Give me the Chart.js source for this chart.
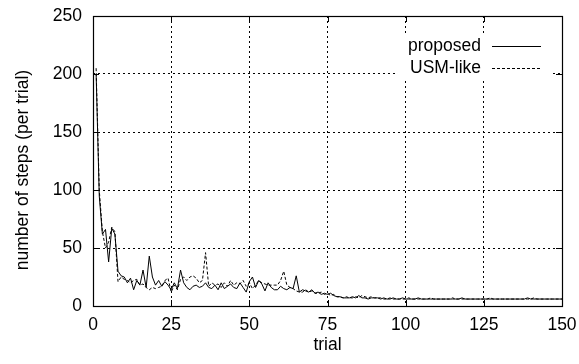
<!DOCTYPE html>
<html>
<head>
<meta charset="utf-8">
<script src="https://cdn.jsdelivr.net/npm/chart.js@4/dist/chart.umd.min.js"></script>
<style>
html,body{margin:0;padding:0;background:#fff;}
#wrap{width:579px;height:364px;position:relative;}
</style>
</head>
<body>
<div id="wrap"><canvas id="c" width="579" height="364"></canvas></div>
<script>
// ---- data ----
const trials = Array.from({length:150}, (_, i) => i + 1);
const proposed = [
 200,95,62,66,38,67,62,30,26,25,
 20,24,14,22,18,31,16,43,25,18,
 22,17,21,18,14,20,15,31,20,16,
 14,17,18,16,17,20,16,15,18,14,
 20,15,17,19,16,15,20,16,12,21,
 25,16,22,19,13,20,16,14,14,17,
 15,14,16,15,26,12,14,13,12,14,
 11,12,10,11,10,11,9,8,8,7,
 7,7,8,7,9,7,7,6,7,7,
 7,6,7,6,6,7,6,6,7,6,
 6,6,6,7,6,6,6,6,6,6,
 6,6,6,6,6,6,6,7,6,6,
 6,6,6,6,6,6,6,6,6,6,
 6,6,6,6,6,6,6,6,7,6,
 6,6,6,6,6,6,6,6,6,6
];
const usmLike = [
 205,100,64,50,55,68,64,21,25,23,
 22,20,22,23,18,19,16,14,16,15,
 16,17,22,24,12,18,14,23,25,22,
 25,26,24,20,22,46,17,20,18,19,
 16,20,17,22,18,20,19,22,17,20,
 15,18,22,20,19,18,18,18,18,22,
 30,18,16,15,13,12,12,14,12,13,
 11,11,12,10,11,9,10,8,8,7,
 8,7,7,8,7,9,8,7,8,7,
 7,7,6,6,7,6,6,6,6,6,
 7,6,6,6,6,6,6,7,6,6,
 6,6,6,6,7,6,6,6,6,6,
 6,6,6,6,6,6,7,6,6,6,
 6,6,6,6,6,6,6,6,6,6,
 7,6,6,6,6,6,6,6,6,6
];
const seriesNames = ['proposed', 'USM-like'];
const xTicks = [0,25,50,75,100,125,150];
const yTicks = [0,50,100,150,200,250];
const xTitle = 'trial';
const yTitle = 'number of steps (per trial)';

const FONT = "'Liberation Sans', Arial, Helvetica, sans-serif";
Chart.defaults.font.family = FONT;
Chart.defaults.font.size = 17.5;
Chart.defaults.color = '#000';

const legendBox = {x0: 397, x1: 553, y0: 33, y1: 80};

const framePlugin = {
  id: 'frame',
  beforeDatasetsDraw(chart) {
    const ctx = chart.ctx;
    ctx.save();
    ctx.fillStyle = '#fff';
    ctx.fillRect(legendBox.x0, legendBox.y0, legendBox.x1 - legendBox.x0, legendBox.y1 - legendBox.y0);
    ctx.restore();
  },
  afterDraw(chart) {
    const ctx = chart.ctx;
    const a = chart.chartArea;
    const xs = chart.scales.x, ys = chart.scales.y;
    ctx.save();
    ctx.strokeStyle = '#000';
    ctx.lineWidth = 1.2;
    ctx.setLineDash([]);
    ctx.strokeRect(Math.round(a.left)+0.5, Math.round(a.top)+0.5, Math.round(a.right-a.left), Math.round(a.bottom-a.top));
    const tl = 6;
    ctx.lineWidth = 1;
    ctx.beginPath();
    xTicks.forEach(v => {
      const px = Math.round(xs.getPixelForValue(v)) + 0.5;
      ctx.moveTo(px, a.bottom); ctx.lineTo(px, a.bottom - tl);
      ctx.moveTo(px, a.top); ctx.lineTo(px, a.top + tl);
    });
    yTicks.forEach(v => {
      const py = Math.round(ys.getPixelForValue(v)) + 0.5;
      ctx.moveTo(a.left, py); ctx.lineTo(a.left + tl, py);
      ctx.moveTo(a.right, py); ctx.lineTo(a.right - tl, py);
    });
    ctx.stroke();
    // y title
    ctx.font = "17.5px " + FONT;
    ctx.fillStyle = '#000';
    ctx.save();
    ctx.translate(23, 170);
    ctx.rotate(-Math.PI / 2);
    ctx.textAlign = 'center';
    ctx.textBaseline = 'middle';
    ctx.fillText(yTitle, 0, 0);
    ctx.restore();
    // legend
    ctx.textAlign = 'right';
    ctx.textBaseline = 'middle';
    const rows = [{y: 46, dash: []}, {y: 68, dash: [3, 2]}];
    rows.forEach((r, i) => {
      ctx.fillText(seriesNames[i], 481, r.y);
      ctx.beginPath();
      ctx.setLineDash(r.dash);
      ctx.moveTo(492, r.y + 0.5);
      ctx.lineTo(541, r.y + 0.5);
      ctx.stroke();
    });
    ctx.restore();
  }
};

new Chart(document.getElementById('c'), {
  type: 'line',
  data: {
    datasets: [
      {
        label: seriesNames[0],
        data: trials.map((t, i) => ({x: t, y: proposed[i]})),
        borderColor: '#000', borderWidth: 1, pointRadius: 0, tension: 0, fill: false
      },
      {
        label: seriesNames[1],
        data: trials.map((t, i) => ({x: t, y: usmLike[i]})),
        borderColor: '#000', borderWidth: 1, borderDash: [3, 2], pointRadius: 0, tension: 0, fill: false
      }
    ]
  },
  options: {
    responsive: false,
    animation: false,
    devicePixelRatio: 1,
    layout: {padding: {top: 16, right: 17, left: 0, bottom: 0}},
    plugins: {legend: {display: false}, tooltip: {enabled: false}},
    scales: {
      x: {
        type: 'linear', min: 0, max: 150,
        afterBuildTicks(s) { s.ticks = xTicks.map(v => ({value: v})); },
        afterFit(s) { s.height = 58; s.paddingLeft = 0; s.paddingRight = 0; },
        grid: {color: (c) => (c.tick && (c.tick.value === 0 || c.tick.value === 150)) ? 'rgba(0,0,0,0)' : '#000', lineWidth: 1, drawTicks: false},
        border: {display: false, dash: [2, 3]},
        ticks: {padding: 9, maxRotation: 0, autoSkip: false},
        title: {display: true, text: xTitle, padding: {top: 0, bottom: 8}}
      },
      y: {
        min: 0, max: 250,
        afterBuildTicks(s) { s.ticks = yTicks.map(v => ({value: v})); },
        afterFit(s) { s.width = 93; s.paddingTop = 0; s.paddingBottom = 0; },
        grid: {color: (c) => (c.tick && (c.tick.value === 0 || c.tick.value === 250)) ? 'rgba(0,0,0,0)' : '#000', lineWidth: 1, drawTicks: false},
        border: {display: false, dash: [2, 3]},
        ticks: {padding: 11},
        title: {display: false}
      }
    }
  },
  plugins: [framePlugin]
});
</script>
</body>
</html>
